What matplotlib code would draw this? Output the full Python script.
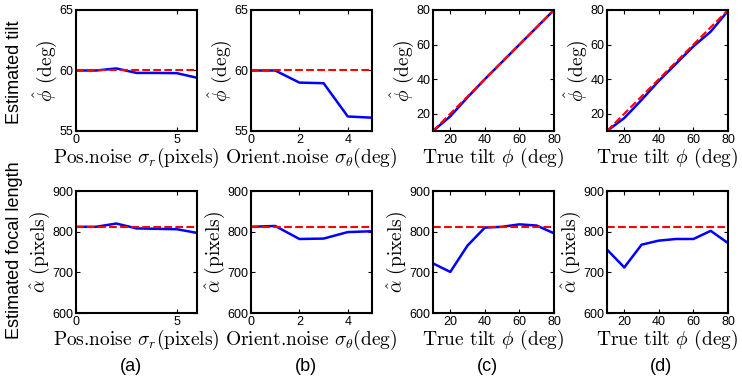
import matplotlib
matplotlib.use('Agg')
import matplotlib.pyplot as plt

plt.rcParams['mathtext.fontset'] = 'cm'
plt.rcParams['font.family'] = ['Liberation Sans', 'DejaVu Sans']

# noise in position (pixels)
pos_noise = [0, 1, 2, 3, 4, 5, 6]
tilt_pos = [60.0, 60.0, 60.17, 59.8, 59.8, 59.78, 59.4]
focal_pos = [812, 812, 820, 808, 807, 806, 797]

# noise in orientation (deg)
orient_noise = [0, 1, 2, 3, 4, 5]
tilt_orient = [60.0, 60.0, 59.0, 58.95, 56.2, 56.1]
focal_orient = [812, 814, 782, 783, 799, 801]

# true tilt (deg)
true_tilt = [10, 20, 30, 40, 50, 60, 70, 80]
tilt_c = [10, 18.5, 29.5, 40, 50, 60, 70, 80]
tilt_d = [10, 17.5, 28, 39, 49, 59, 67.5, 79.5]
focal_c = [722, 701, 766, 810, 812, 818, 815, 796]
focal_d = [756, 712, 768, 778, 782, 782, 802, 772]

true_focal = 812
true_tilt_const = 60

fig = plt.figure(figsize=(7.42, 3.79), dpi=100)

lefts = [76, 251, 433, 607]
W, H = 742.0, 379.0
top_row = [fig.add_axes([l / W, 1 - 131 / H, 121 / W, 121 / H]) for l in lefts]
bot_row = [fig.add_axes([l / W, 1 - 313 / H, 121 / W, 122 / H]) for l in lefts]

blue = '#0000ff'
red = '#ff0000'

def style(ax):
    ax.tick_params(direction='in', top=True, right=True, labelsize=9, length=3, pad=2)
    for s in ax.spines.values():
        s.set_linewidth(1.5)

xl_pos = r'Pos.noise $\sigma_r$(pixels)'
xl_or = r'Orient.noise $\sigma_\theta$(deg)'
xl_tilt = r'True tilt $\phi$ (deg)'
yl_tilt = r'$\hat{\phi}$ (deg)'
yl_focal = r'$\hat{\alpha}$ (pixels)'
lab = 14
serif = 'cmr10'

# top row: tilt
ax = top_row[0]
ax.plot(pos_noise, tilt_pos, color=blue, lw=1.8)
ax.plot([0, 6], [true_tilt_const] * 2, '--', color=red, lw=1.5)
ax.set_xlim(0, 6); ax.set_ylim(55, 65)
ax.set_xticks([0, 5]); ax.set_yticks([55, 60, 65])

ax = top_row[1]
ax.plot(orient_noise, tilt_orient, color=blue, lw=1.8)
ax.plot([0, 5], [true_tilt_const] * 2, '--', color=red, lw=1.5)
ax.set_xlim(0, 5); ax.set_ylim(55, 65)
ax.set_xticks([0, 2, 4]); ax.set_yticks([55, 60, 65])

for ax, est in zip(top_row[2:], [tilt_c, tilt_d]):
    ax.plot(true_tilt, est, color=blue, lw=1.8)
    ax.plot(true_tilt, true_tilt, '--', color=red, lw=1.5)
    ax.set_xlim(10, 80); ax.set_ylim(10, 80)
    ax.set_xticks([20, 40, 60, 80]); ax.set_yticks([20, 40, 60, 80])

# bottom row: focal length
ax = bot_row[0]
ax.plot(pos_noise, focal_pos, color=blue, lw=1.8)
ax.plot([0, 6], [true_focal] * 2, '--', color=red, lw=1.5)
ax.set_xlim(0, 6); ax.set_xticks([0, 5])

ax = bot_row[1]
ax.plot(orient_noise, focal_orient, color=blue, lw=1.8)
ax.plot([0, 5], [true_focal] * 2, '--', color=red, lw=1.5)
ax.set_xlim(0, 5); ax.set_xticks([0, 2, 4])

for ax, est in zip(bot_row[2:], [focal_c, focal_d]):
    ax.plot(true_tilt, est, color=blue, lw=1.8)
    ax.plot([10, 80], [true_focal] * 2, '--', color=red, lw=1.5)
    ax.set_xlim(10, 80); ax.set_xticks([20, 40, 60, 80])

for ax in bot_row:
    ax.set_ylim(600, 900)
    ax.set_yticks([600, 700, 800, 900])

xlabels = [xl_pos, xl_or, xl_tilt, xl_tilt]
for i in range(4):
    for ax, yl in [(top_row[i], yl_tilt), (bot_row[i], yl_focal)]:
        style(ax)
        ax.set_xlabel(xlabels[i], fontsize=lab, labelpad=0, family=serif)
        ax.set_ylabel(yl, fontsize=lab, labelpad=0, family=serif)

for ax, t in zip(bot_row, ['(a)', '(b)', '(c)', '(d)']):
    ax.text(0.45, -0.44, t, transform=ax.transAxes, ha='center', va='center', fontsize=13)

fig.text(15 / W, 1 - 72 / H, 'Estimated tilt', rotation=90, ha='center', va='center', fontsize=13)
fig.text(15 / W, 1 - 250 / H, 'Estimated focal length', rotation=90, ha='center', va='center', fontsize=13)

fig.savefig('out.png', dpi=100)
